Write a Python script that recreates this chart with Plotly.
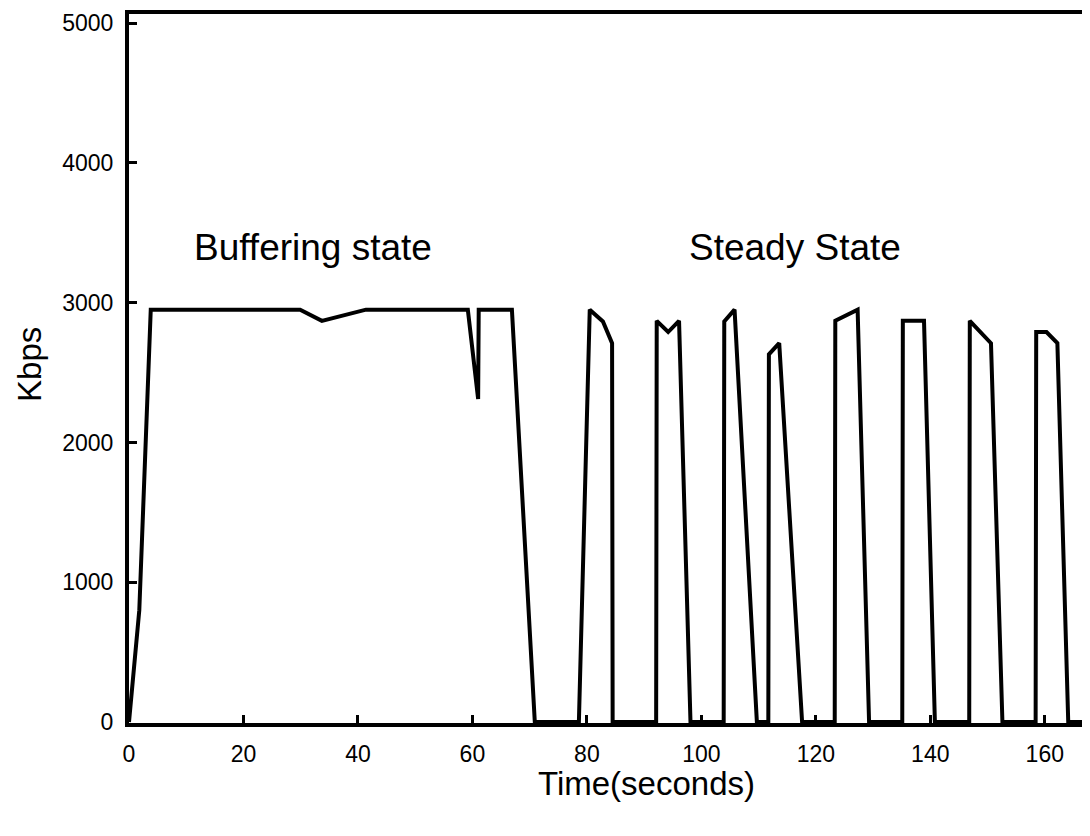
import plotly.graph_objects as go

# Throughput trace (seconds, Kbps)
time_s = [0.0, 1.8, 3.8, 29.9, 33.7, 41.4, 59.2, 61.0, 61.1, 66.9, 70.9,
          78.6, 80.5, 82.8, 84.4, 84.5,
          92.1, 92.2, 94.2, 96.1, 98.1,
          103.9, 104.0, 105.8, 109.7,
          111.7, 111.8, 113.6, 117.6,
          123.3, 123.4, 127.3, 129.3,
          135.1, 135.2, 138.9, 140.8,
          146.8, 146.9, 150.6, 152.6,
          158.4, 158.5, 160.3, 162.2, 164.1, 169.0]
kbps = [0, 800, 2950, 2950, 2870, 2950, 2950, 2310, 2950, 2950, 0,
        0, 2950, 2865, 2710, 0,
        0, 2870, 2790, 2870, 0,
        0, 2865, 2950, 0,
        0, 2630, 2710, 0,
        0, 2870, 2950, 0,
        0, 2870, 2870, 0,
        0, 2870, 2710, 0,
        0, 2790, 2790, 2710, 0, 0]

x_ticks = [0, 20, 40, 60, 80, 100, 120, 140, 160]
y_ticks = [0, 1000, 2000, 3000, 4000, 5000]

phase_labels = ["Buffering state", "Steady State"]
phase_x = [32.1, 116.3]
phase_y = [3395, 3395]

FONT = "Liberation Sans, Arial, sans-serif"

fig = go.Figure()
fig.add_trace(go.Scatter(
    x=time_s, y=kbps, mode="lines",
    line=dict(color="black", width=4),
    showlegend=False, hoverinfo="skip",
))

for t, px, py in zip(phase_labels, phase_x, phase_y):
    fig.add_annotation(x=px, y=py, xref="x", yref="y", text=t, showarrow=False,
                       xanchor="center", yanchor="middle",
                       font=dict(family=FONT, size=37, color="black"))

fig.add_annotation(x=90.4, y=0, xref="x", yref="paper", text="Time(seconds)",
                   showarrow=False, xanchor="center", yanchor="middle", yshift=-60,
                   font=dict(family=FONT, size=33, color="black"))
fig.add_annotation(x=0, y=0.505, xref="paper", yref="paper", text="Kbps",
                   showarrow=False, xanchor="center", yanchor="middle",
                   xshift=-99, textangle=-90,
                   font=dict(family=FONT, size=33, color="black"))

fig.update_layout(
    width=1082, height=800,
    margin=dict(l=121, r=0, t=6, b=85),
    paper_bgcolor="white", plot_bgcolor="white",
    font=dict(family=FONT, color="black"),
)
fig.update_xaxes(
    range=[0, 167.9], tickvals=x_ticks, ticktext=[str(v) for v in x_ticks],
    showgrid=False, zeroline=False, showline=True, linecolor="black", linewidth=4,
    mirror=True, ticks="inside", ticklen=8, tickwidth=3, tickcolor="black",
    ticklabelstandoff=7,
    tickfont=dict(family=FONT, size=23, color="black"),
)
fig.update_yaxes(
    range=[-7, 5065], tickvals=y_ticks, ticktext=[str(v) for v in y_ticks],
    showgrid=False, zeroline=False, showline=True, linecolor="black", linewidth=4,
    mirror=False, ticks="inside", ticklen=8, tickwidth=3, tickcolor="black",
    ticklabelstandoff=7,
    tickfont=dict(family=FONT, size=23, color="black"),
)

fig.write_html("out.html")
